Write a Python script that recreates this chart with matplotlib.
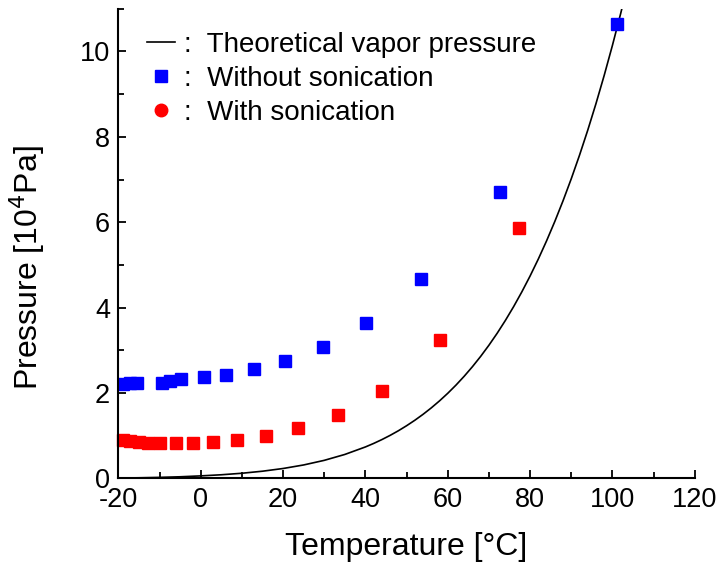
import matplotlib
matplotlib.use("Agg")
import matplotlib.pyplot as plt
from matplotlib.ticker import MultipleLocator

plt.rcParams["font.family"] = ["Liberation Sans", "DejaVu Sans"]
plt.rcParams["axes.unicode_minus"] = False

# Measured chamber pressure [10^4 Pa] vs temperature [°C]
temp_without = [-18.8, -17.2, -15.5, -9.5, -7.5, -4.9, 0.9, 6.1, 12.9, 20.5, 29.6, 40.1, 53.5, 72.6, 101.0]
press_without = [2.22, 2.23, 2.24, 2.24, 2.29, 2.32, 2.37, 2.42, 2.56, 2.75, 3.08, 3.64, 4.66, 6.72, 10.64]

temp_with = [-18.8, -17.2, -15.1, -12.7, -10.0, -6.0, -1.9, 3.0, 8.8, 15.8, 23.7, 33.3, 44.1, 58.1, 77.2]
press_with = [0.89, 0.88, 0.85, 0.84, 0.83, 0.83, 0.83, 0.86, 0.91, 1.00, 1.18, 1.49, 2.04, 3.24, 5.86]

# Saturation vapor pressure of water (steam table values), [10^4 Pa]
temp_theory = [-20, -15, -10, -5, 0, 5, 10, 15, 20, 25, 30, 35, 40, 42, 44, 46, 48,
               50, 52, 54, 56, 58, 60, 62, 64, 66, 68, 70, 72, 74, 76, 78, 80,
               82, 84, 86, 88, 90, 92, 94, 96, 98, 100, 102, 104]
press_theory = [0.01035, 0.01653, 0.02600, 0.04019, 0.06113, 0.08726, 0.12282,
                0.17057, 0.23392, 0.31697, 0.42467, 0.56286, 0.73844, 0.82054,
                0.91075, 1.0094, 1.1171, 1.2352, 1.3631, 1.5022, 1.6533, 1.8171,
                1.9946, 2.1867, 2.3943, 2.6183, 2.8599, 3.1201, 3.4000, 3.7009,
                4.0239, 4.3703, 4.7414, 5.1387, 5.5635, 6.0173, 6.5017, 7.0182,
                7.5684, 8.1541, 8.7771, 9.4390, 10.142, 10.887, 11.678]

fig = plt.figure(figsize=(7.26, 5.66), dpi=100)
ax = fig.add_axes([0.163, 0.1546, 0.794, 0.83])

ax.plot(temp_theory, press_theory, color="black", lw=1.2,
        label=":  Theoretical vapor pressure")
ax.plot(temp_without, press_without, ls="none", marker="s", ms=9,
        color="#0000FF", mec="#0000FF", label=":  Without sonication")
ax.plot(temp_with, press_with, ls="none", marker="s", ms=9,
        color="#FF0000", mec="#FF0000", clip_on=False)
# legend entry for the red series uses a round marker
ax.plot([], [], ls="none", marker="o", ms=9, color="#FF0000",
        label=":  With sonication")

ax.set_xlim(-20, 120)
ax.set_ylim(0, 11)
ax.xaxis.set_major_locator(MultipleLocator(20))
ax.xaxis.set_minor_locator(MultipleLocator(10))
ax.yaxis.set_major_locator(MultipleLocator(2))
ax.yaxis.set_minor_locator(MultipleLocator(1))

for side in ("top", "right"):
    ax.spines[side].set_visible(False)
for side in ("left", "bottom"):
    ax.spines[side].set_linewidth(1.5)

ax.tick_params(which="major", direction="in", length=6, width=1.3,
               labelsize=19.5, pad=6)
ax.tick_params(which="minor", direction="in", length=4, width=1.3)

ax.set_xlabel("Temperature [\u00b0C]", fontsize=23, labelpad=14)
ax.set_ylabel("Pressure [10$^4$Pa]", fontsize=23)
ax.yaxis.set_label_coords(-0.123, 0.448)

ax.legend(loc="upper left", frameon=False, fontsize=20,
          handlelength=1.0, handletextpad=0.35, labelspacing=0.28,
          borderaxespad=0.0, bbox_to_anchor=(0.03, 0.974))

fig.savefig("out.png", dpi=100)
